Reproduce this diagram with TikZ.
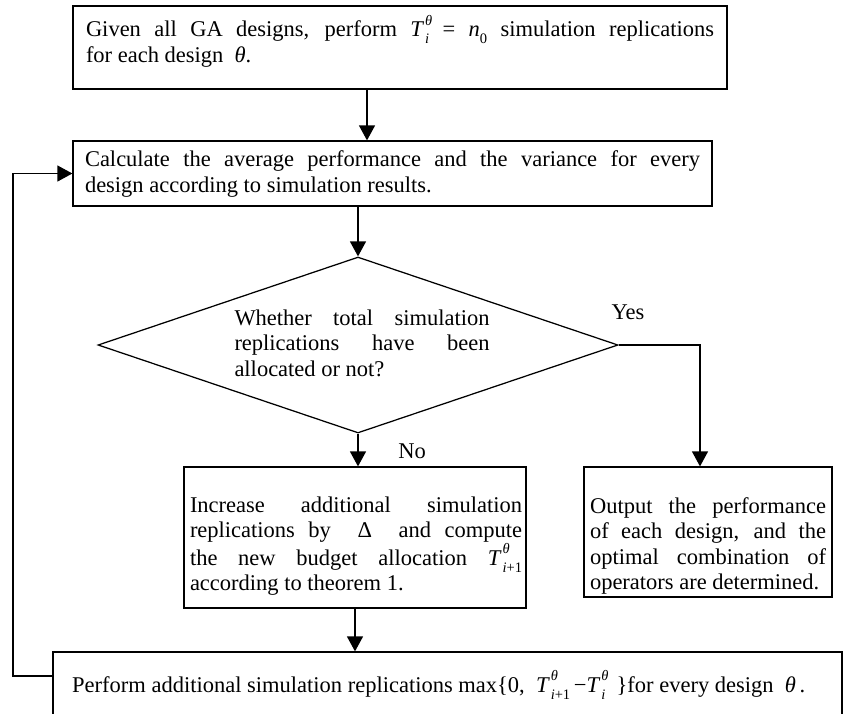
\documentclass[tikz,border=0pt]{standalone}
\usepackage{fontspec}
\setmainfont{Liberation Serif}
\usetikzlibrary{arrows.meta,shapes.geometric}
\newcommand{\smallfs}{\fontsize{14.5}{14.5}\selectfont}
\newcommand{\TT}[1]{\textit{T}\kern0.04em\makebox[0pt][l]{\raisebox{0.5em}{\smallfs\textit{θ}}}\raisebox{-0.32em}{\smallfs #1}}
\newcommand{\nzero}{\textit{n}\raisebox{-0.32em}{\smallfs 0}}
\begin{document}
\begin{tikzpicture}[x=1pt,y=-1pt,
  every node/.style={font=\fontsize{22.5}{25.5}\selectfont},
  boxst/.style={draw,line width=1.25pt,rectangle,inner sep=0pt},
  txtst/.style={inner sep=0pt,align=justify},
  arr/.style={line width=1.25pt,-{Triangle[length=15pt,width=16pt]}},
  lbl/.style={inner sep=0pt}]
\clip (0,0) rectangle (843,713);
\fill[white] (0,0) rectangle (843,713);
% boxes
\node[boxst,minimum width=654pt,minimum height=83pt] (top) at (400,47.5) {};
\node[txtst,text width=628pt] (ttop) at (400,41) {Given all GA designs, perform \TT{\textit{i}} = \nzero\ simulation replications\linebreak for each design \ \textit{θ}.};
\node[boxst,minimum width=639pt,minimum height=65pt] (box2) at (392.5,173.5) {};
\node[txtst,text width=615pt] (tbox2) at (392.5,174) {Calculate the average performance and the variance for every\linebreak design according to simulation results.};
\node[draw,line width=1.25pt,diamond,aspect=2.95,minimum width=520pt,minimum height=176pt,inner sep=0pt] (dia) at (358,345) {};
\node[txtst,text width=255pt] (tdia) at (362,343) {Whether total simulation\linebreak replications have been\linebreak allocated or not?};
\node[boxst,minimum width=342pt,minimum height=141pt] (lbox) at (355,537.5) {};
\node[txtst,text width=332pt] (tlbox) at (356,546) {Increase additional simulation\linebreak replications by \ Δ \ and compute\linebreak the new budget allocation \TT{\textit{i}+1}\linebreak according to theorem 1.};
\node[boxst,minimum width=248pt,minimum height=130pt] (rbox) at (708,532) {};
\node[txtst,text width=236pt] (trbox) at (708,546) {Output the performance\linebreak of each design, and the\linebreak optimal combination of\linebreak operators are determined.};
\node[boxst,minimum width=789pt,minimum height=108pt] (bot) at (447.5,706) {};
\node[lbl,anchor=base west] (tbot) at (72,692) {Perform additional simulation replications max\{0, \ \TT{\textit{i}+1}\,−\TT{\textit{i}}\ \ \}for every design \ \textit{θ}\,.};
% labels
\node[lbl] (yes) at (628,312) {Yes};
\node[lbl] (no) at (412,451) {No};
% connector helpers
\coordinate (a1) at (367,0);
\coordinate (yx) at (700,345);
\coordinate (lp) at (13,676);
% connectors
\draw[arr] (top.south -| a1) -- (box2.north -| a1);
\draw[arr] (box2.south -| dia.north) -- (dia.north);
\draw[arr] (dia.east) -- (yx) -- (rbox.north -| yx);
\draw[arr] (dia.south) -- (dia.south |- lbox.north);
\draw[arr] (lbox.south) -- (lbox.south |- bot.north);
\draw[arr] (bot.west |- lp) -- (lp) |- (box2.west);
\end{tikzpicture}
\end{document}
